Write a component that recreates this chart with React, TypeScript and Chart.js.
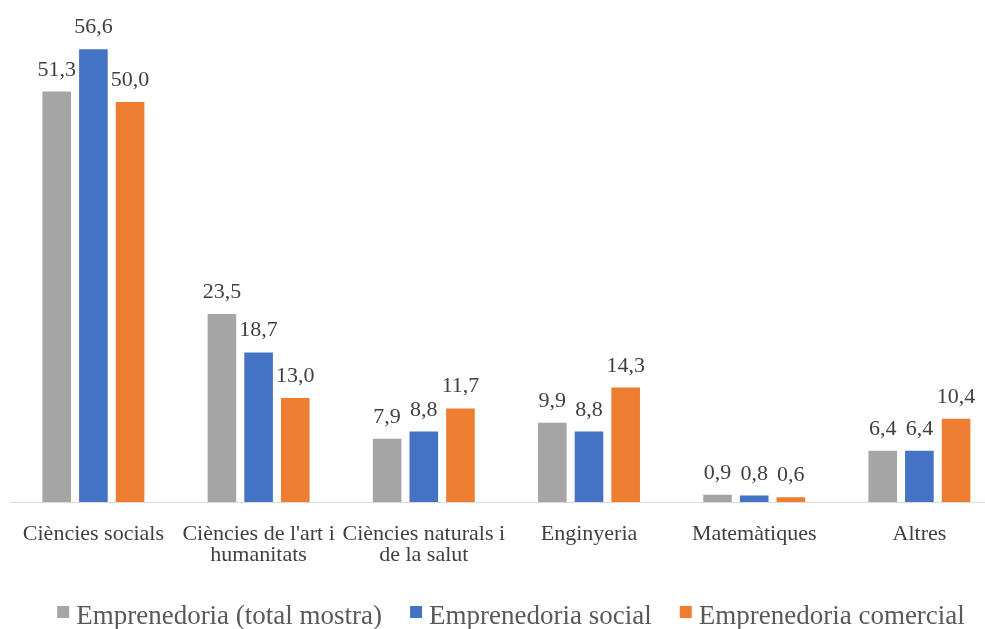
import React, { useEffect, useRef } from "react";
import { Chart, registerables } from "chart.js";

Chart.register(...registerables);

const categories: (string | string[])[] = [
  "Ciències socials",
  ["Ciències de l'art i", "humanitats"],
  ["Ciències naturals i", "de la salut"],
  "Enginyeria",
  "Matemàtiques",
  "Altres",
];
const seriesNames = [
  "Emprenedoria (total mostra)",
  "Emprenedoria social",
  "Emprenedoria comercial",
];
const totalMostra = [51.3, 23.5, 7.9, 9.9, 0.9, 6.4];
const social = [56.6, 18.7, 8.8, 8.8, 0.8, 6.4];
const comercial = [50.0, 13.0, 11.7, 14.3, 0.6, 10.4];
const colors = ["#A5A5A5", "#4472C4", "#ED7D31"];

const FONT = '"Liberation Serif", "Times New Roman", serif';

const valueLabels = {
  id: "valueLabels",
  afterDatasetsDraw(chart: any) {
    const ctx = chart.ctx;
    ctx.save();
    ctx.font = `22px ${FONT}`;
    ctx.fillStyle = "#404040";
    ctx.textAlign = "center";
    ctx.textBaseline = "alphabetic";
    chart.data.datasets.forEach((ds: any, i: number) => {
      const meta = chart.getDatasetMeta(i);
      meta.data.forEach((el: any, j: number) => {
        const v = ds.data[j] as number;
        ctx.fillText(v.toFixed(1).replace(".", ","), el.x, el.y - 16);
      });
    });
    ctx.restore();
  },
};

const customLegend = {
  id: "customLegend",
  afterDraw(chart: any) {
    const ctx = chart.ctx;
    ctx.save();
    ctx.font = `27px ${FONT}`;
    ctx.textBaseline = "alphabetic";
    ctx.textAlign = "left";
    const box = 12;
    const gapBoxText = 7;
    const gapItems = 28;
    const items = chart.data.datasets.map((ds: any) => ({
      label: ds.label as string,
      color: ds.backgroundColor as string,
      w: ctx.measureText(ds.label).width,
    }));
    const total =
      items.reduce((s: number, it: any) => s + box + gapBoxText + it.w, 0) +
      gapItems * (items.length - 1);
    let x = 511 - total / 2;
    const baseline = 624;
    items.forEach((it: any) => {
      ctx.fillStyle = it.color;
      ctx.fillRect(x, 606, box, box);
      ctx.fillStyle = "#595959";
      ctx.fillText(it.label, x + box + gapBoxText, baseline);
      x += box + gapBoxText + it.w + gapItems;
    });
    ctx.restore();
  },
};

export default function App() {
  const ref = useRef<HTMLCanvasElement | null>(null);
  useEffect(() => {
    if (!ref.current) return;
    const chart = new Chart(ref.current, {
      type: "bar",
      data: {
        labels: categories as any,
        datasets: [totalMostra, social, comercial].map((d, i) => ({
          label: seriesNames[i],
          data: d,
          backgroundColor: colors[i],
          borderWidth: 0,
          categoryPercentage: 0.666,
          barPercentage: 0.78,
        })),
      },
      options: {
        animation: false,
        responsive: false,
        layout: { padding: { left: 10, right: 10, top: 22, bottom: 50 } },
        plugins: {
          legend: { display: false },
          tooltip: { enabled: false },
        },
        scales: {
          x: {
            grid: { display: false, drawTicks: false },
            border: { display: true, color: "#D9D9D9", width: 1 },
            ticks: {
              color: "#404040",
              font: { family: FONT, size: 22, lineHeight: 0.955 },
              padding: 22,
              maxRotation: 0,
              autoSkip: false,
            },
            afterFit: (scale: any) => {
              scale.height = 77;
            },
          },
          y: {
            display: false,
            min: 0,
            max: 60,
          },
        },
      },
      plugins: [valueLabels, customLegend],
    });
    return () => chart.destroy();
  }, []);
  return (
    <div
      style={{
        position: "fixed",
        left: 0,
        top: 0,
        width: 985,
        height: 629,
        overflow: "hidden",
        background: "#fff",
      }}
    >
      <canvas ref={ref} width={1012} height={629} style={{ display: "block" }} />
    </div>
  );
}
